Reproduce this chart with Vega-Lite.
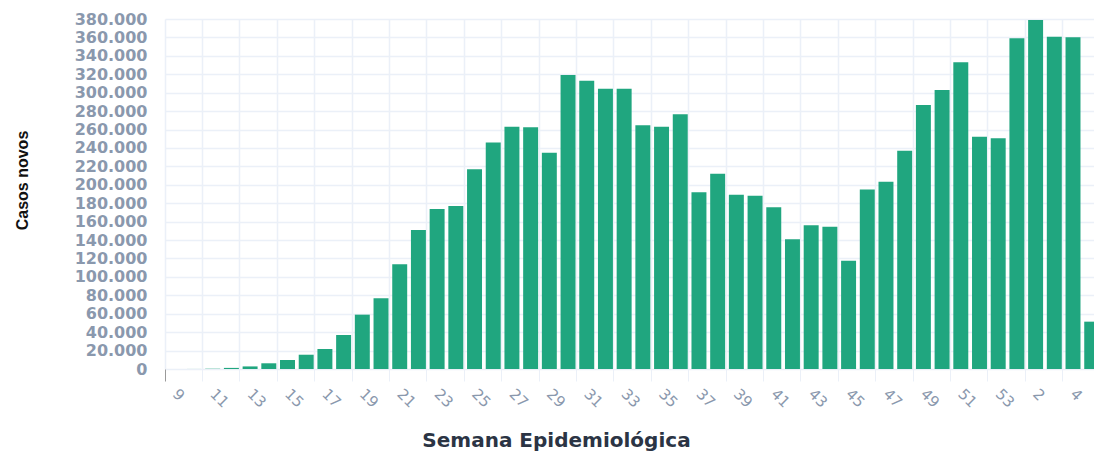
{
  "$schema": "https://vega.github.io/schema/vega-lite/v6.json",
  "width": 929,
  "height": 350,
  "autosize": {"type": "none"},
  "padding": {"left": 165, "top": 19, "right": 0, "bottom": 83},
  "background": "white",
  "config": {
    "view": {"stroke": null},
    "locale": {"number": {"decimal": ",", "thousands": ".", "grouping": [3], "currency": ["R$", ""]}}
  },
  "data": {
    "values": [
      {"semana": "9", "casos": 0},
      {"semana": "10", "casos": 50},
      {"semana": "11", "casos": 300},
      {"semana": "12", "casos": 1200},
      {"semana": "13", "casos": 2800},
      {"semana": "14", "casos": 6200},
      {"semana": "15", "casos": 9800},
      {"semana": "16", "casos": 15500},
      {"semana": "17", "casos": 21700},
      {"semana": "18", "casos": 36900},
      {"semana": "19", "casos": 59000},
      {"semana": "20", "casos": 76700},
      {"semana": "21", "casos": 113700},
      {"semana": "22", "casos": 151000},
      {"semana": "23", "casos": 173700},
      {"semana": "24", "casos": 177000},
      {"semana": "25", "casos": 216800},
      {"semana": "26", "casos": 246000},
      {"semana": "27", "casos": 263000},
      {"semana": "28", "casos": 262400},
      {"semana": "29", "casos": 234900},
      {"semana": "30", "casos": 319200},
      {"semana": "31", "casos": 313000},
      {"semana": "32", "casos": 304300},
      {"semana": "33", "casos": 304300},
      {"semana": "34", "casos": 264600},
      {"semana": "35", "casos": 263000},
      {"semana": "36", "casos": 276500},
      {"semana": "37", "casos": 191800},
      {"semana": "38", "casos": 212000},
      {"semana": "39", "casos": 189300},
      {"semana": "40", "casos": 188200},
      {"semana": "41", "casos": 175600},
      {"semana": "42", "casos": 141000},
      {"semana": "43", "casos": 156000},
      {"semana": "44", "casos": 154500},
      {"semana": "45", "casos": 117600},
      {"semana": "46", "casos": 195000},
      {"semana": "47", "casos": 203400},
      {"semana": "48", "casos": 237000},
      {"semana": "49", "casos": 286600},
      {"semana": "50", "casos": 302900},
      {"semana": "51", "casos": 333000},
      {"semana": "52", "casos": 252200},
      {"semana": "53", "casos": 250500},
      {"semana": "1", "casos": 359000},
      {"semana": "2", "casos": 379000},
      {"semana": "3", "casos": 360800},
      {"semana": "4", "casos": 360100},
      {"semana": "5", "casos": 51400}
    ]
  },
  "mark": {"type": "bar", "color": "#20a67f", "clip": true},
  "encoding": {
    "x": {
      "field": "semana",
      "type": "nominal",
      "sort": null,
      "scale": {"range": [0, 937], "paddingInner": 0.2, "paddingOuter": 0.15},
      "axis": {
        "values": ["9","11","13","15","17","19","21","23","25","27","29","31","33","35","37","39","41","43","45","47","49","51","53","2","4"],
        "bandPosition": -0.187,
        "title": "Semana Epidemiológica",
        "titleFont": "DejaVu Sans",
        "titleFontSize": 20,
        "titleFontWeight": "bold",
        "titleColor": "#2b3444",
        "titleX": 391,
        "titleY": 71,
        "titleBaseline": "middle",
        "titleAnchor": "middle",
        "labelAngle": 45,
        "labelAlign": "left",
        "labelBaseline": "middle",
        "labelFont": "DejaVu Sans",
        "labelFontSize": 15,
        "labelColor": "#8a98ad",
        "labelPadding": 10,
        "domain": false,
        "ticks": true,
        "tickSize": 12,
        "tickColor": {"condition": {"test": "datum.value == '9'", "value": "#9a9a9a"}, "value": "#EBF0F8"},
        "grid": true,
        "gridColor": "#EBF0F8",
        "gridWidth": 1.5
      }
    },
    "y": {
      "field": "casos",
      "type": "quantitative",
      "scale": {"domain": [0, 380000], "nice": false},
      "axis": {
        "values": [0,20000,40000,60000,80000,100000,120000,140000,160000,180000,200000,220000,240000,260000,280000,300000,320000,340000,360000,380000],
        "format": ",d",
        "title": "Casos novos",
        "titleFont": "Liberation Sans",
        "titleFontSize": 16,
        "titleFontWeight": "bold",
        "titleColor": "#111111",
        "titleAngle": -90,
        "titleX": -143,
        "titleY": 161,
        "titleBaseline": "middle",
        "titleAnchor": "middle",
        "labelFont": "DejaVu Sans",
        "labelFontSize": 16,
        "labelFontWeight": "bold",
        "labelColor": "#8a98ad",
        "labelPadding": 18,
        "domain": false,
        "ticks": false,
        "grid": true,
        "gridColor": "#EBF0F8",
        "gridWidth": 1.5
      }
    }
  }
}
